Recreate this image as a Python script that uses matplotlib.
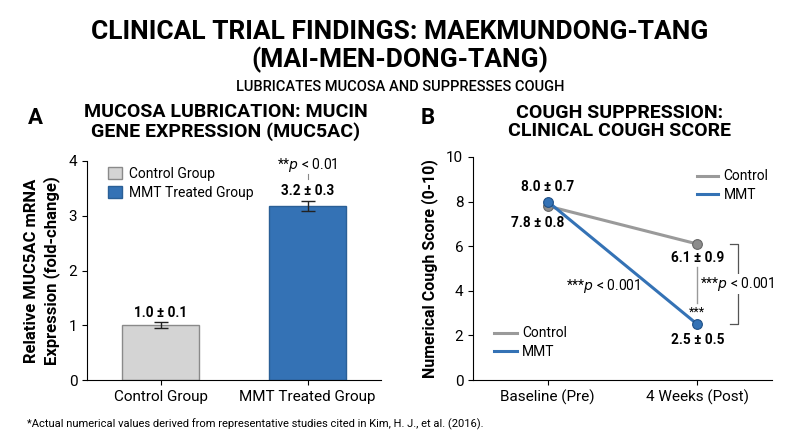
import matplotlib
matplotlib.use("Agg")
import matplotlib.pyplot as plt
from matplotlib.patches import Patch
import numpy as np

plt.rcParams['font.family'] = ['Roboto', 'DejaVu Sans']

# painel A - expressão de mucina
grupos = ["Control Group", "MMT Treated Group"]
muc_media = [1.0, 3.18]
muc_erro = [0.055, 0.085]
muc_rotulos = ["1.0 ± 0.1", "3.2 ± 0.3"]
cores_barras = ["#d4d4d4", "#3472b5"]

# painel B - escore de tosse
tempos = ["Baseline (Pre)", "4 Weeks (Post)"]
tosse_controle = [7.8, 6.1]
tosse_mmt = [8.0, 2.5]
rot_controle = ["7.8 ± 0.8", "6.1 ± 0.9"]
rot_mmt = ["8.0 ± 0.7", "2.5 ± 0.5"]

W, H = 800, 436
fig = plt.figure(figsize=(8, 4.36), dpi=100)

def px(x, y):
    return x / W, 1 - y / H

def ftexto(x, y, s, **kw):
    fx, fy = px(x, y)
    fig.text(fx, fy, s, **kw)

# títulos
ftexto(400, 32, "CLINICAL TRIAL FINDINGS: MAEKMUNDONG-TANG", ha='center', va='center',
       fontsize=19, fontweight='bold')
ftexto(400, 60, "(MAI-MEN-DONG-TANG)", ha='center', va='center', fontsize=19, fontweight='bold')
ftexto(400, 87, "LUBRICATES MUCOSA AND SUPPRESSES COUGH", ha='center', va='center', fontsize=10.5,
       fontweight='medium')

ftexto(35, 118, "A", ha='center', va='center', fontsize=16, fontweight='bold')
ftexto(226, 122, "MUCOSA LUBRICATION: MUCIN\nGENE EXPRESSION (MUC5AC)", ha='center', va='center',
       fontsize=14, fontweight='bold', linespacing=1.05)
ftexto(428, 118, "B", ha='center', va='center', fontsize=16, fontweight='bold')
ftexto(620, 122, "COUGH SUPPRESSION:\nCLINICAL COUGH SCORE", ha='center', va='center',
       fontsize=14, fontweight='bold', linespacing=1.05)

ftexto(27, 424, "*Actual numerical values derived from representative studies cited in Kim, H. J., et al. (2016).",
       ha='left', va='center', fontsize=8)

rot_kw = dict(ha='center', va='center', fontsize=9.8, fontweight='bold')

# ---------- painel A ----------
axA = fig.add_axes([87 / W, 1 - 380 / H, 294 / W, 219 / H])
x = np.arange(len(grupos))
axA.bar(x, muc_media, width=0.52, color=cores_barras, edgecolor=['#8a8a8a', '#2a5f96'], linewidth=1)
axA.errorbar(x, muc_media, yerr=muc_erro, fmt='none', ecolor='#222222', elinewidth=1, capsize=5)
axA.set_xlim(-0.5, 1.5)
axA.set_ylim(0, 4)
axA.set_yticks([0, 1, 2, 3, 4])
axA.set_xticks(x)
axA.set_xticklabels(grupos, fontsize=11)
axA.tick_params(axis='y', labelsize=11)
for s in ['top', 'right']:
    axA.spines[s].set_visible(False)
axA.set_ylabel("Relative MUC5AC mRNA\nExpression (fold-change)", fontsize=12, fontweight='bold',
               linespacing=1.3, labelpad=6)
axA.text(0, 1.23, muc_rotulos[0], **rot_kw)
axA.text(1, 3.45, muc_rotulos[1], **rot_kw)
axA.text(1, 3.93, "**$p$ < 0.01", ha='center', va='center', fontsize=10)
axA.plot([1, 1], [3.67, 3.77], color='#888888', lw=0.8)

hA = [Patch(facecolor=cores_barras[0], edgecolor='#8a8a8a'),
      Patch(facecolor=cores_barras[1], edgecolor='#2a5f96')]
axA.legend(hA, grupos, loc='upper left', bbox_to_anchor=(0.03, 1.03), frameon=False, fontsize=10,
           handlelength=1.0, handleheight=1.0, handletextpad=0.5, labelspacing=0.35)

# ---------- painel B ----------
axB = fig.add_axes([473 / W, 1 - 380 / H, 299 / W, 223 / H])
t = np.arange(len(tempos))
cinza = '#9a9a9a'
azul = '#3472b5'
lc, = axB.plot(t, tosse_controle, '-o', color=cinza, lw=2.2, ms=7, mfc='#8c8c8c', mec='#666666',
               mew=0.8, label='Control')
lm, = axB.plot(t, tosse_mmt, '-o', color=azul, lw=2.2, ms=7, mfc=azul, mec='#1f4f85',
               mew=0.8, label='MMT')
axB.set_xlim(-0.5, 1.5)
axB.set_ylim(0, 10)
axB.set_yticks([0, 2, 4, 6, 8, 10])
axB.set_xticks(t)
axB.set_xticklabels(tempos, fontsize=11)
axB.tick_params(axis='y', labelsize=11)
for s in ['top', 'right']:
    axB.spines[s].set_visible(False)
axB.set_ylabel("Numerical Cough Score (0-10)", fontsize=11.5, fontweight='bold', labelpad=6)

axB.text(0, 8.65, rot_mmt[0], **rot_kw)
axB.text(-0.07, 7.05, rot_controle[0], **rot_kw)
axB.text(1, 5.45, rot_controle[1], **rot_kw)
axB.text(1, 1.8, rot_mmt[1], **rot_kw)
axB.text(1, 3.05, "***", ha='center', va='center', fontsize=9)
axB.plot([1, 1], [3.45, 5.05], color='#999999', lw=1)
axB.text(0.37, 4.2, "***$p$ < 0.001", ha='center', va='center', fontsize=10)

# colchete
axB.plot([1.22, 1.27, 1.27, 1.22], [6.1, 6.1, 2.5, 2.5], color='#555555', lw=0.9)
axB.text(1.27, 4.3, "***$p$ < 0.001", ha='center', va='center', fontsize=10,
         bbox=dict(facecolor='white', edgecolor='none', pad=1))

legB1 = axB.legend([lc, lm], ['Control', 'MMT'], loc='upper right', bbox_to_anchor=(1.03, 1.0),
                   frameon=False, fontsize=10, handlelength=1.5, handletextpad=0.4, labelspacing=0.3)
for h in legB1.legend_handles:
    h.set_marker('')
axB.add_artist(legB1)
legB2 = axB.legend([lc, lm], ['Control', 'MMT'], loc='lower left', bbox_to_anchor=(0.03, 0.04),
                   frameon=False, fontsize=10, handlelength=1.6, handletextpad=0.4, labelspacing=0.3)
for h in legB2.legend_handles:
    h.set_marker('')

fig.savefig("out.png", dpi=100)
